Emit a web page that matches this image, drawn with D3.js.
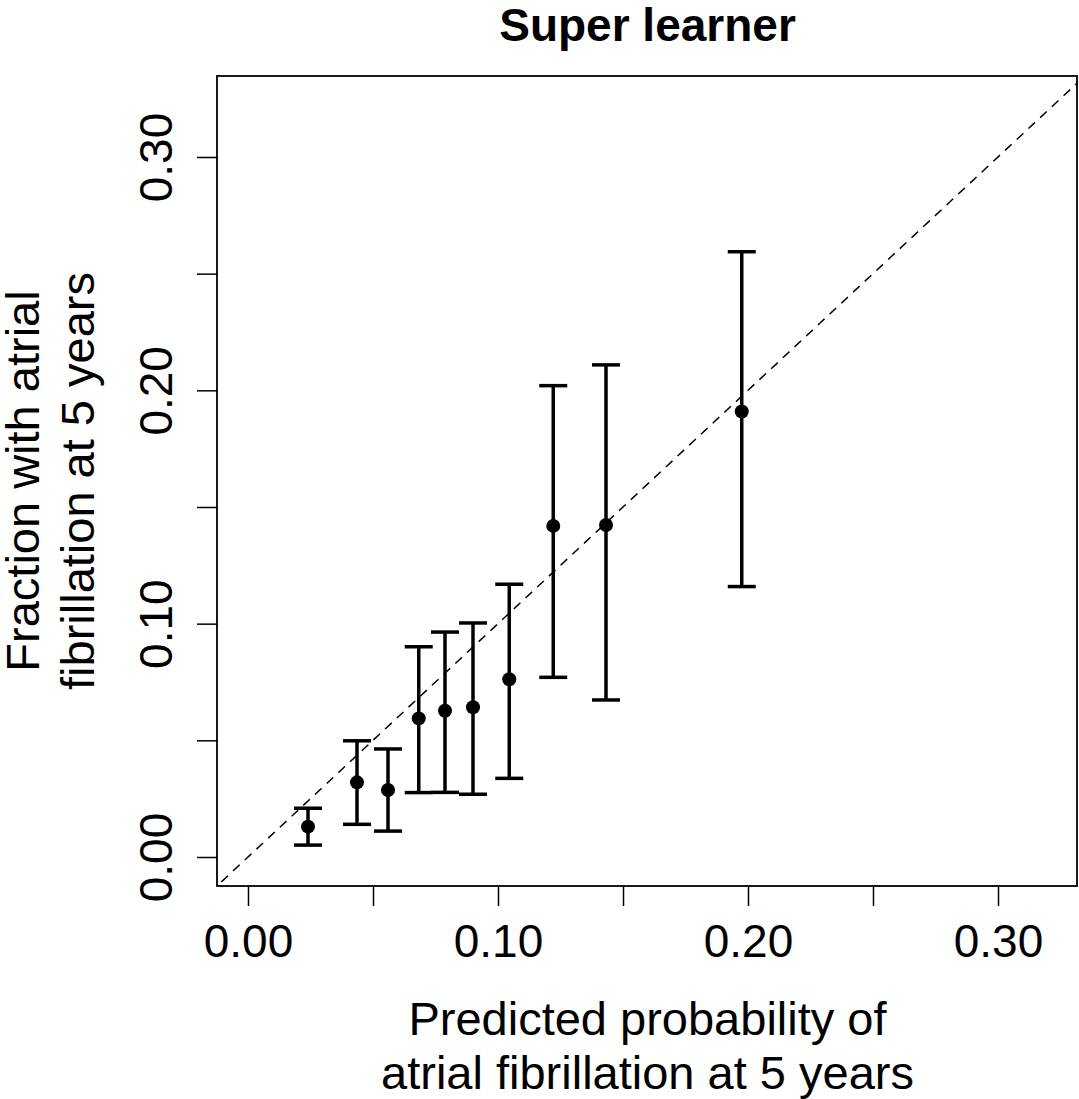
<!DOCTYPE html>
<html>
<head>
<meta charset="utf-8">
<script src="https://cdn.jsdelivr.net/npm/d3@7"></script>
<style>
body { margin: 0; background: #fff; }
svg text { font-family: "Liberation Sans", Arial, sans-serif; fill: #000; }
</style>
</head>
<body>
<svg width="1079" height="1099"></svg>
<script>
// calibration groups
var predicted = [0.0240, 0.0436, 0.0560, 0.0683, 0.0788, 0.0900, 0.1045, 0.1221, 0.1432, 0.1975];
var observed  = [0.0130, 0.0320, 0.0287, 0.0594, 0.0627, 0.0642, 0.0762, 0.1419, 0.1423, 0.1909];
var lower     = [0.0051, 0.0140, 0.0111, 0.0276, 0.0277, 0.0269, 0.0337, 0.0770, 0.0673, 0.1159];
var upper     = [0.0209, 0.0498, 0.0463, 0.0901, 0.0964, 0.1003, 0.1169, 0.2020, 0.2109, 0.2594];

var tickValues = [0, 0.05, 0.10, 0.15, 0.20, 0.25, 0.30];
var labelTicks = [0, 0.10, 0.20, 0.30];

var svg = d3.select("svg"),
width = +svg.attr("width"),
height = +svg.attr("height");

// plot region (window.top is reserved, so use other names)
var pLeft = 217, pRight = 1078, pTop = 76, pBottom = 886;

var x = d3.scaleLinear().domain([-0.0124, 0.332]).range([pLeft, pRight]);
var y = d3.scaleLinear().domain([-0.01243, 0.33471]).range([pBottom, pTop]);

var data = predicted.map(function(p, i) {
  return { x: p, y: observed[i], lo: lower[i], hi: upper[i] };
});

function fmt(d) {
  var hit = labelTicks.some(function(t) { return Math.abs(t - d) < 1e-9; });
  return hit ? d3.format(".2f")(d) : "";
}

svg.append("defs").append("clipPath")
  .attr("id", "plotclip")
  .append("rect")
  .attr("x", pLeft).attr("y", pTop)
  .attr("width", pRight - pLeft).attr("height", pBottom - pTop);

// reference diagonal
svg.append("line")
  .attr("clip-path", "url(#plotclip)")
  .attr("x1", x(-0.02)).attr("y1", y(-0.02))
  .attr("x2", x(0.34)).attr("y2", y(0.34))
  .attr("stroke", "#000")
  .attr("stroke-width", 1.5)
  .attr("stroke-dasharray", "9,7");

var bars = svg.append("g").attr("class", "bars")
  .selectAll("g")
  .data(data)
  .enter().append("g");

bars.append("line")
  .attr("x1", function(d) { return x(d.x); })
  .attr("x2", function(d) { return x(d.x); })
  .attr("y1", function(d) { return y(d.lo); })
  .attr("y2", function(d) { return y(d.hi); })
  .attr("stroke", "#000").attr("stroke-width", 3.5);

["lo", "hi"].forEach(function(k) {
  bars.append("line")
    .attr("x1", function(d) { return x(d.x) - 14; })
    .attr("x2", function(d) { return x(d.x) + 14; })
    .attr("y1", function(d) { return y(d[k]); })
    .attr("y2", function(d) { return y(d[k]); })
    .attr("stroke", "#000").attr("stroke-width", 3.5);
});

bars.append("circle")
  .attr("cx", function(d) { return x(d.x); })
  .attr("cy", function(d) { return y(d.y); })
  .attr("r", 7)
  .attr("fill", "#000");

// plot box
svg.append("rect")
  .attr("x", pLeft).attr("y", pTop)
  .attr("width", pRight - pLeft - 1).attr("height", pBottom - pTop)
  .attr("fill", "none")
  .attr("stroke", "#000")
  .attr("stroke-width", 1.8);

var xAxis = svg.append("g")
  .attr("transform", "translate(0," + pBottom + ")")
  .call(d3.axisBottom(x).tickValues(tickValues).tickSize(20).tickPadding(4).tickFormat(fmt));
xAxis.select(".domain").remove();
xAxis.selectAll("line").attr("stroke-width", 1.5);
xAxis.selectAll("text")
  .attr("dy", null)
  .attr("y", 71)
  .style("font-size", "46px")
  .style("font-family", "'Liberation Sans', Arial, sans-serif");

var yAxis = svg.append("g")
  .attr("transform", "translate(" + pLeft + ",0)")
  .call(d3.axisLeft(y).tickValues(tickValues).tickSize(20).tickFormat(fmt));
yAxis.select(".domain").remove();
yAxis.selectAll("line").attr("stroke-width", 1.5);
yAxis.selectAll("text")
  .attr("x", null).attr("dy", null)
  .attr("text-anchor", "middle")
  .attr("transform", "translate(-45,0) rotate(-90)")
  .style("font-size", "46px")
  .style("font-family", "'Liberation Sans', Arial, sans-serif");

// title
svg.append("text")
  .text("Super learner")
  .attr("x", (pLeft + pRight) / 2)
  .attr("y", 41)
  .attr("text-anchor", "middle")
  .style("font-weight", "bold")
  .style("font-size", "46px");

// x label
var xl = svg.append("text")
  .attr("text-anchor", "middle")
  .style("font-size", "47px");
xl.append("tspan").attr("x", (pLeft + pRight) / 2).attr("y", 1035).text("Predicted probability of");
xl.append("tspan").attr("x", (pLeft + pRight) / 2).attr("y", 1089).text("atrial fibrillation at 5 years");

// y label
var yc = (pTop + pBottom) / 2;
var yl = svg.append("text")
  .attr("text-anchor", "middle")
  .attr("transform", "rotate(-90)")
  .style("font-size", "47px");
yl.append("tspan").attr("x", -yc).attr("y", 39).text("Fraction with atrial");
yl.append("tspan").attr("x", -yc).attr("y", 94).text("fibrillation at 5 years");
</script>
</body>
</html>
